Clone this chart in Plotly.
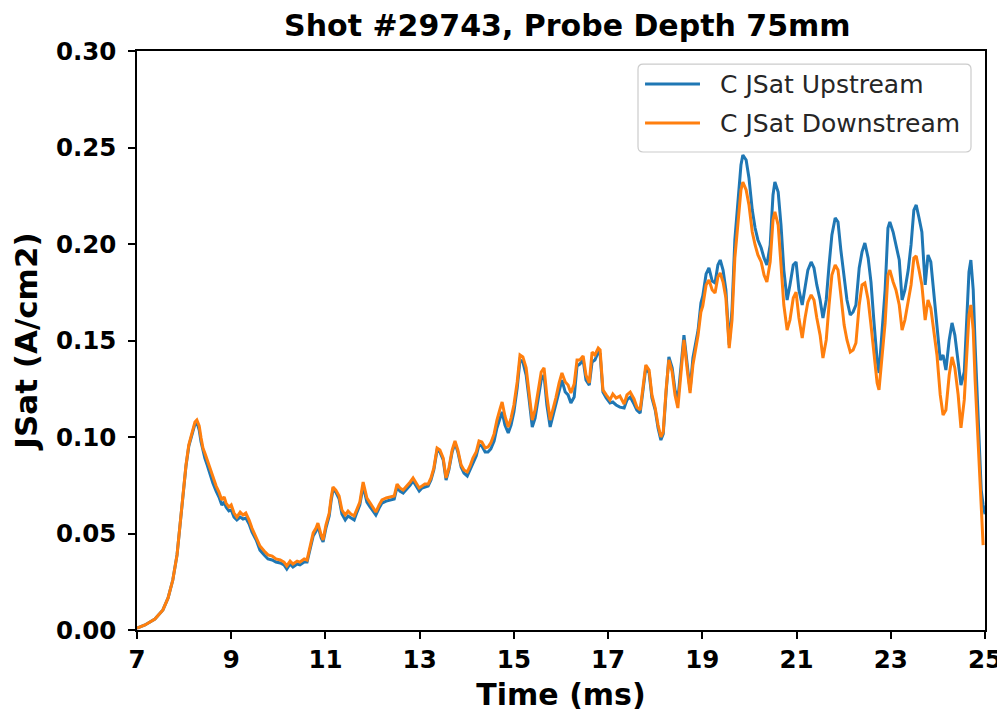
import plotly.graph_objects as go

time_ms = [
    7.00, 7.17, 7.38, 7.55, 7.66, 7.76, 7.85, 7.91, 7.98, 8.04, 8.10, 8.17, 8.23, 8.27, 8.32, 8.36,
    8.40, 8.44, 8.49, 8.55, 8.61, 8.68, 8.74, 8.80, 8.85, 8.89, 8.95, 9.00, 9.06, 9.12, 9.19, 9.25,
    9.31, 9.38, 9.44, 9.53, 9.61, 9.70, 9.78, 9.87, 9.95, 10.04, 10.12, 10.18, 10.25, 10.31, 10.40, 10.46,
    10.55, 10.61, 10.67, 10.74, 10.80, 10.84, 10.91, 10.95, 11.01, 11.08, 11.12, 11.16, 11.22, 11.29, 11.35, 11.42,
    11.48, 11.54, 11.61, 11.67, 11.73, 11.80, 11.84, 11.88, 11.95, 12.01, 12.07, 12.14, 12.20, 12.29, 12.37, 12.46,
    12.52, 12.58, 12.65, 12.73, 12.80, 12.86, 12.92, 12.99, 13.05, 13.11, 13.18, 13.24, 13.30, 13.37, 13.43, 13.50,
    13.56, 13.62, 13.69, 13.75, 13.81, 13.88, 13.94, 14.01, 14.07, 14.13, 14.20, 14.26, 14.32, 14.39, 14.45, 14.51,
    14.58, 14.64, 14.71, 14.75, 14.81, 14.88, 14.94, 15.00, 15.07, 15.13, 15.19, 15.26, 15.32, 15.39, 15.45, 15.51,
    15.58, 15.64, 15.70, 15.77, 15.83, 15.89, 15.96, 16.02, 16.09, 16.15, 16.21, 16.28, 16.34, 16.40, 16.47, 16.53,
    16.60, 16.66, 16.72, 16.79, 16.83, 16.89, 16.96, 17.04, 17.10, 17.17, 17.25, 17.34, 17.40, 17.47, 17.55, 17.61,
    17.68, 17.74, 17.80, 17.87, 17.93, 18.00, 18.06, 18.12, 18.17, 18.23, 18.29, 18.36, 18.42, 18.48, 18.55, 18.61,
    18.68, 18.74, 18.80, 18.87, 18.91, 18.97, 19.01, 19.08, 19.14, 19.21, 19.27, 19.33, 19.38, 19.44, 19.50, 19.57,
    19.63, 19.69, 19.76, 19.82, 19.86, 19.93, 19.99, 20.06, 20.12, 20.18, 20.25, 20.31, 20.37, 20.44, 20.50, 20.54,
    20.61, 20.67, 20.73, 20.80, 20.86, 20.93, 20.99, 21.05, 21.12, 21.18, 21.24, 21.31, 21.37, 21.43, 21.50, 21.56,
    21.63, 21.69, 21.75, 21.82, 21.88, 21.94, 22.01, 22.07, 22.14, 22.20, 22.26, 22.33, 22.39, 22.45, 22.52, 22.58,
    22.64, 22.71, 22.75, 22.81, 22.88, 22.94, 22.98, 23.05, 23.11, 23.18, 23.24, 23.30, 23.37, 23.43, 23.49, 23.54,
    23.60, 23.66, 23.73, 23.79, 23.85, 23.92, 23.98, 24.05, 24.11, 24.17, 24.24, 24.30, 24.36, 24.43, 24.49, 24.56,
    24.62, 24.66, 24.70, 24.75, 24.79, 24.85, 24.92, 24.96, 25.00,
]

jsat_upstream = [
    0.0010, 0.0026, 0.0057, 0.0104, 0.0166, 0.0259, 0.0389, 0.0544, 0.0699, 0.0850, 0.0953, 0.1016, 0.1067, 0.1078, 0.1036, 0.0974,
    0.0922, 0.0891, 0.0855, 0.0808, 0.0762, 0.0720, 0.0689, 0.0648, 0.0663, 0.0637, 0.0617, 0.0622, 0.0585, 0.0570, 0.0585, 0.0575,
    0.0580, 0.0549, 0.0508, 0.0466, 0.0414, 0.0389, 0.0368, 0.0363, 0.0352, 0.0347, 0.0337, 0.0316, 0.0342, 0.0326, 0.0342, 0.0337,
    0.0352, 0.0352, 0.0414, 0.0487, 0.0513, 0.0539, 0.0477, 0.0456, 0.0528, 0.0591, 0.0668, 0.0725, 0.0715, 0.0679, 0.0601, 0.0570,
    0.0591, 0.0580, 0.0570, 0.0611, 0.0648, 0.0746, 0.0705, 0.0663, 0.0637, 0.0617, 0.0596, 0.0632, 0.0658, 0.0668, 0.0674, 0.0679,
    0.0741, 0.0720, 0.0710, 0.0730, 0.0751, 0.0772, 0.0746, 0.0720, 0.0736, 0.0741, 0.0746, 0.0777, 0.0829, 0.0933, 0.0922, 0.0881,
    0.0777, 0.0829, 0.0922, 0.0969, 0.0922, 0.0845, 0.0813, 0.0798, 0.0834, 0.0870, 0.0902, 0.0959, 0.0953, 0.0922, 0.0922, 0.0938,
    0.0979, 0.1047, 0.1098, 0.1130, 0.1062, 0.1021, 0.1062, 0.1130, 0.1254, 0.1399, 0.1389, 0.1321, 0.1202, 0.1052, 0.1098, 0.1181,
    0.1295, 0.1321, 0.1166, 0.1052, 0.1109, 0.1171, 0.1244, 0.1295, 0.1233, 0.1218, 0.1176, 0.1207, 0.1368, 0.1378, 0.1399, 0.1295,
    0.1269, 0.1389, 0.1399, 0.1440, 0.1430, 0.1233, 0.1202, 0.1176, 0.1181, 0.1166, 0.1155, 0.1150, 0.1192, 0.1207, 0.1171, 0.1140,
    0.1124, 0.1233, 0.1358, 0.1332, 0.1202, 0.1140, 0.1047, 0.0984, 0.1016, 0.1228, 0.1415, 0.1358, 0.1244, 0.1192, 0.1373, 0.1528,
    0.1373, 0.1244, 0.1409, 0.1503, 0.1554, 0.1694, 0.1731, 0.1845, 0.1876, 0.1808, 0.1798, 0.1891, 0.1917, 0.1865, 0.1762, 0.1477,
    0.1658, 0.2021, 0.2254, 0.2409, 0.2461, 0.2435, 0.2342, 0.2176, 0.2083, 0.2021, 0.1979, 0.1927, 0.1891, 0.1995, 0.2254, 0.2321,
    0.2269, 0.2098, 0.1865, 0.1710, 0.1788, 0.1891, 0.1907, 0.1762, 0.1684, 0.1788, 0.1865, 0.1907, 0.1876, 0.1788, 0.1710, 0.1617,
    0.1710, 0.1891, 0.2047, 0.2135, 0.2114, 0.1969, 0.1813, 0.1710, 0.1632, 0.1648, 0.1684, 0.1876, 0.1959, 0.2005, 0.1927, 0.1803,
    0.1606, 0.1399, 0.1332, 0.1513, 0.1762, 0.2083, 0.2114, 0.2062, 0.1995, 0.1917, 0.1710, 0.1762, 0.1865, 0.1995, 0.2176, 0.2202,
    0.2135, 0.2062, 0.1788, 0.1943, 0.1907, 0.1736, 0.1606, 0.1399, 0.1425, 0.1347, 0.1503, 0.1591, 0.1528, 0.1373, 0.1269, 0.1337,
    0.1606, 0.1855, 0.1917, 0.1762, 0.1477, 0.1088, 0.0725, 0.0648, 0.0600,
]

jsat_downstream = [
    0.0010, 0.0026, 0.0057, 0.0104, 0.0166, 0.0259, 0.0389, 0.0544, 0.0699, 0.0855, 0.0959, 0.1021, 0.1078, 0.1088, 0.1057, 0.0995,
    0.0943, 0.0917, 0.0881, 0.0829, 0.0788, 0.0746, 0.0715, 0.0674, 0.0689, 0.0658, 0.0637, 0.0648, 0.0606, 0.0585, 0.0611, 0.0596,
    0.0606, 0.0570, 0.0528, 0.0482, 0.0435, 0.0409, 0.0389, 0.0383, 0.0368, 0.0363, 0.0352, 0.0332, 0.0357, 0.0342, 0.0357, 0.0352,
    0.0368, 0.0363, 0.0425, 0.0503, 0.0528, 0.0554, 0.0492, 0.0466, 0.0544, 0.0606, 0.0684, 0.0741, 0.0725, 0.0694, 0.0622, 0.0596,
    0.0616, 0.0601, 0.0591, 0.0632, 0.0663, 0.0767, 0.0725, 0.0684, 0.0658, 0.0632, 0.0611, 0.0648, 0.0674, 0.0684, 0.0689, 0.0694,
    0.0756, 0.0736, 0.0725, 0.0746, 0.0767, 0.0788, 0.0762, 0.0736, 0.0746, 0.0756, 0.0756, 0.0788, 0.0839, 0.0943, 0.0933, 0.0891,
    0.0788, 0.0839, 0.0933, 0.0979, 0.0933, 0.0855, 0.0829, 0.0819, 0.0850, 0.0891, 0.0922, 0.0979, 0.0974, 0.0943, 0.0948, 0.0969,
    0.1016, 0.1088, 0.1150, 0.1181, 0.1109, 0.1052, 0.1098, 0.1166, 0.1285, 0.1425, 0.1415, 0.1358, 0.1233, 0.1088, 0.1140, 0.1223,
    0.1337, 0.1358, 0.1212, 0.1088, 0.1140, 0.1202, 0.1280, 0.1332, 0.1285, 0.1269, 0.1228, 0.1275, 0.1399, 0.1399, 0.1420, 0.1321,
    0.1280, 0.1440, 0.1425, 0.1461, 0.1451, 0.1244, 0.1218, 0.1192, 0.1223, 0.1202, 0.1212, 0.1171, 0.1218, 0.1233, 0.1197, 0.1155,
    0.1140, 0.1244, 0.1373, 0.1347, 0.1218, 0.1150, 0.1062, 0.1000, 0.1026, 0.1244, 0.1399, 0.1337, 0.1218, 0.1150, 0.1347, 0.1503,
    0.1347, 0.1228, 0.1373, 0.1477, 0.1528, 0.1648, 0.1679, 0.1788, 0.1813, 0.1762, 0.1746, 0.1829, 0.1850, 0.1803, 0.1720, 0.1461,
    0.1606, 0.1927, 0.2124, 0.2280, 0.2321, 0.2280, 0.2202, 0.2062, 0.1995, 0.1943, 0.1907, 0.1839, 0.1803, 0.1907, 0.2124, 0.2166,
    0.2098, 0.1907, 0.1684, 0.1554, 0.1606, 0.1720, 0.1751, 0.1617, 0.1513, 0.1617, 0.1699, 0.1736, 0.1710, 0.1617, 0.1528, 0.1409,
    0.1503, 0.1684, 0.1839, 0.1891, 0.1865, 0.1736, 0.1580, 0.1503, 0.1440, 0.1451, 0.1487, 0.1684, 0.1788, 0.1798, 0.1710, 0.1580,
    0.1425, 0.1280, 0.1244, 0.1399, 0.1591, 0.1839, 0.1865, 0.1803, 0.1762, 0.1684, 0.1554, 0.1606, 0.1710, 0.1788, 0.1927, 0.1938,
    0.1865, 0.1788, 0.1606, 0.1710, 0.1668, 0.1528, 0.1425, 0.1218, 0.1114, 0.1140, 0.1321, 0.1415, 0.1358, 0.1218, 0.1047, 0.1192,
    0.1477, 0.1632, 0.1684, 0.1554, 0.1295, 0.0984, 0.0622, 0.0440, None,
]

series_names = ["C JSat Upstream", "C JSat Downstream"]
series_colors = ["#1f77b4", "#ff7f0e"]
x_ticks = [7, 9, 11, 13, 15, 17, 19, 21, 23, 25]
y_ticks = [0.00, 0.05, 0.10, 0.15, 0.20, 0.25, 0.30]

fig = go.Figure()
for name, vals, col in zip(series_names, [jsat_upstream, jsat_downstream], series_colors):
    fig.add_trace(go.Scatter(x=time_ms, y=vals, mode="lines", name=name,
                             line=dict(color=col, width=3), connectgaps=False,
                             showlegend=False))

bold = dict(family="DejaVu Sans", color="black", weight="bold")
axis_common = dict(showline=True, linecolor="black", linewidth=1.5, mirror=True,
                   ticks="outside", ticklen=7, tickwidth=1.5, tickcolor="black",
                   showgrid=False, zeroline=False, automargin=False)

# Legend box drawn in paper coordinates (matplotlib-style framed legend)
lx0, lx1, ly0, ly1 = 0.5908, 0.9835, 0.8256, 0.9775
rx, ry = 0.006, 0.009
legend_path = (f"M{lx0+rx},{ly0} L{lx1-rx},{ly0} Q{lx1},{ly0} {lx1},{ly0+ry} "
               f"L{lx1},{ly1-ry} Q{lx1},{ly1} {lx1-rx},{ly1} L{lx0+rx},{ly1} "
               f"Q{lx0},{ly1} {lx0},{ly1-ry} L{lx0},{ly0+ry} Q{lx0},{ly0} {lx0+rx},{ly0} Z")
shapes = [dict(type="path", xref="paper", yref="paper", path=legend_path,
               fillcolor="rgba(255,255,255,0.8)", line=dict(color="#cccccc", width=1.2))]
annotations = []
row_y = [0.9430, 0.8756]
for name, col, yy in zip(series_names, series_colors, row_y):
    shapes.append(dict(type="line", xref="paper", yref="paper", x0=0.5991, x1=0.6639,
                       y0=yy, y1=yy, line=dict(color=col, width=3)))
    annotations.append(dict(xref="paper", yref="paper", x=0.6851, y=yy, xanchor="left",
                            yanchor="middle", text=name, showarrow=False,
                            font=dict(family="DejaVu Sans", size=25, color="#262626")))

# The page body adds an 8px offset, so the figure is 8px smaller than the window
fig.update_layout(
    width=997, height=708,
    margin=dict(l=129, r=20, t=43, b=86),
    paper_bgcolor="white", plot_bgcolor="white",
    title=dict(text="Shot #29743, Probe Depth 75mm", x=0.561, xanchor="center",
               y=0.975, yanchor="middle", font=dict(size=30, **bold)),
    xaxis=dict(range=[7, 25], tickvals=x_ticks, ticktext=[str(v) for v in x_ticks],
               tickfont=dict(size=24.5, **bold),
               title=dict(text="Time (ms)", font=dict(size=30, **bold), standoff=11),
               **axis_common),
    yaxis=dict(range=[0, 0.30], tickvals=y_ticks, ticktext=[f"{v:.2f}" for v in y_ticks],
               tickfont=dict(size=24.5, **bold), ticklabelstandoff=7,
               title=dict(text="JSat (A/cm2)", font=dict(size=31, **bold), standoff=14),
               **axis_common),
    shapes=shapes,
    annotations=annotations,
    showlegend=False,
)

fig.write_html("out.html")
